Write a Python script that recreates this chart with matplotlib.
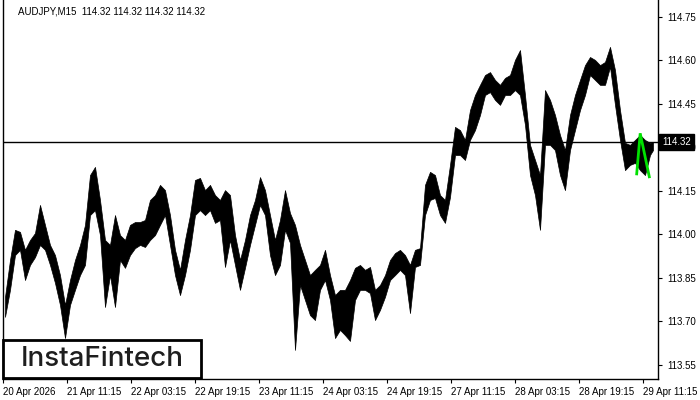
import matplotlib
matplotlib.use("Agg")
import matplotlib.pyplot as plt
import matplotlib.transforms as mtransforms
from matplotlib.patches import Rectangle

plt.rcParams['font.family'] = ['Liberation Sans', 'DejaVu Sans']

# ---- data (bar index, M15 bars) ----
bars = list(range(2, 648, 5)) + [650]
highs = [113.785, 113.912, 114.016, 114.009, 113.947, 113.981, 114.005, 114.102, 114.033, 113.964,
         113.929, 113.860, 113.757, 113.843, 113.912, 113.964, 114.033, 114.205, 114.233, 114.119,
         113.981, 113.964, 114.067, 113.998, 113.981, 114.033, 114.043, 114.043, 114.050, 114.119,
         114.136, 114.171, 114.153, 114.067, 113.947, 113.878, 113.981, 114.067, 114.188, 114.195,
         114.153, 114.171, 114.136, 114.119, 114.153, 114.136, 113.998, 113.912, 113.981, 114.067,
         114.119, 114.198, 114.153, 114.067, 113.981, 114.050, 114.153, 114.074, 114.033, 113.964,
         113.912, 113.860, 113.878, 113.895, 113.947, 113.860, 113.791, 113.809, 113.809, 113.843,
         113.885, 113.895, 113.878, 113.888, 113.809, 113.826, 113.860, 113.912, 113.936, 113.947,
         113.929, 113.895, 113.947, 113.953, 114.171, 114.216, 114.205, 114.136, 114.119, 114.240,
         114.371, 114.360, 114.326, 114.429, 114.481, 114.516, 114.550, 114.560, 114.533, 114.516,
         114.540, 114.550, 114.602, 114.636, 114.481, 114.309, 114.257, 114.205, 114.498, 114.464,
         114.412, 114.343, 114.291, 114.412, 114.481, 114.533, 114.584, 114.612, 114.602, 114.584,
         114.595, 114.647, 114.567, 114.429, 114.316, 114.309, 114.326, 114.343, 114.326, 114.316,
         114.319]
lows = [113.716, 113.809, 113.929, 113.947, 113.843, 113.895, 113.922, 113.964, 113.947, 113.895,
        113.833, 113.757, 113.643, 113.757, 113.809, 113.860, 113.895, 114.067, 114.084, 113.998,
        113.750, 113.860, 113.750, 113.912, 113.885, 113.929, 113.953, 113.964, 113.957, 113.981,
        113.998, 114.033, 114.067, 113.964, 113.860, 113.791, 113.860, 113.947, 114.067, 114.084,
        114.067, 114.084, 114.040, 114.050, 113.888, 113.981, 113.895, 113.809, 113.885, 113.964,
        114.033, 114.102, 114.067, 113.929, 113.860, 113.895, 114.016, 113.971, 113.602, 113.826,
        113.774, 113.722, 113.705, 113.809, 113.843, 113.774, 113.643, 113.671, 113.653, 113.633,
        113.774, 113.809, 113.809, 113.798, 113.705, 113.740, 113.785, 113.843, 113.860, 113.878,
        113.860, 113.729, 113.888, 113.895, 114.067, 114.119, 114.126, 114.067, 114.040, 114.129,
        114.274, 114.274, 114.257, 114.326, 114.360, 114.412, 114.481, 114.491, 114.464, 114.447,
        114.481, 114.481, 114.498, 114.481, 114.378, 114.205, 114.136, 114.016, 114.309, 114.309,
        114.291, 114.205, 114.153, 114.291, 114.360, 114.429, 114.481, 114.550, 114.533, 114.516,
        114.516, 114.578, 114.447, 114.326, 114.222, 114.240, 114.247, 114.222, 114.205, 114.274,
        114.291]

last_price = 114.32
title_text = "AUDJPY,M15  114.32 114.32 114.32 114.32"

pattern_bars = [633.7, 637.2, 646.3]
pattern_prices = [114.209, 114.349, 114.199]

y_ticks = [113.55, 113.70, 113.85, 114.00, 114.15, 114.30, 114.45, 114.60, 114.75]
x_tick_bars = [0, 64, 128, 192, 256, 320, 384, 448, 512, 576, 640]
x_tick_labels = ["20 Apr 2026", "21 Apr 11:15", "22 Apr 03:15", "22 Apr 19:15", "23 Apr 11:15",
                 "24 Apr 03:15", "24 Apr 19:15", "27 Apr 11:15", "28 Apr 03:15", "28 Apr 19:15",
                 "29 Apr 11:15"]

# ---- figure ----
W, H = 700, 400
fig = plt.figure(figsize=(7, 4), dpi=100)
ax = fig.add_axes([3 / W, 21 / H, 655 / W, 379 / H])

ax.fill_between(bars, lows, highs, color="black", linewidth=0.5, edgecolor="black")
ax.axhline(last_price, color="black", linewidth=1.0)
ax.plot(pattern_bars, pattern_prices, color="#00e000", linewidth=2.0, solid_joinstyle="miter")

ax.set_xlim(0, 655)
ax.set_ylim(113.5017, 114.8086)

ax.yaxis.tick_right()
ax.set_yticks(y_ticks)
ax.set_yticklabels([f"{v:.2f}" for v in y_ticks])
ax.set_xticks(x_tick_bars)
ax.set_xticklabels(x_tick_labels, ha="left")
ax.tick_params(axis="both", direction="out", length=3, width=0.8, labelsize=7, colors="black")
ax.tick_params(axis="y", pad=4)
ax.tick_params(axis="x", pad=3)

for s in ["left", "bottom", "right"]:
    ax.spines[s].set_color("black")
    ax.spines[s].set_linewidth(1.0)
ax.spines["top"].set_visible(False)

# current price box
trans = mtransforms.blended_transform_factory(ax.transAxes, ax.transData)
ax.text(1.006, last_price, f"{last_price:.2f}", transform=trans, ha="left", va="center",
        fontsize=7, color="white",
        bbox=dict(boxstyle="square,pad=0.3", fc="black", ec="black"), clip_on=False, zorder=5)

# title
fig.text(18 / W, 1 - 11 / H, title_text, fontsize=7, ha="left", va="center", color="black")

# logo box
fig.patches.append(Rectangle((3 / W, 22 / H), 198 / W, 38 / H, transform=fig.transFigure,
                             fill=True, fc="white", ec="black", lw=2.0, zorder=10))
fig.text(102 / W, 1 - 359 / H, "InstaFintech", fontsize=20, ha="center", va="center",
         color="#1e1e1e", family=["Inter", "DejaVu Sans"], weight="medium", zorder=11)

fig.savefig("out.png", dpi=100, facecolor="white")
